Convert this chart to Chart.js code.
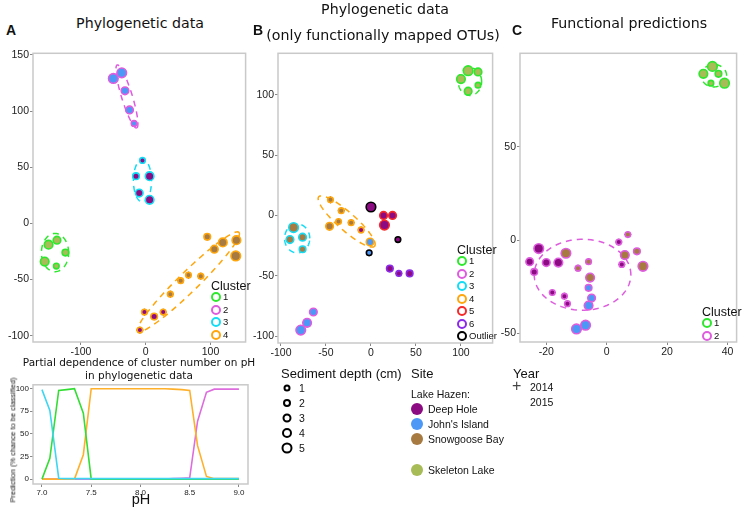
<!DOCTYPE html>
<html>
<head>
<meta charset="utf-8">
<script src="https://cdn.jsdelivr.net/npm/chart.js@4.4.1/dist/chart.umd.min.js"></script>
<style>
body{margin:0;background:#fff;}
#wrap{position:relative;width:743px;height:508px;overflow:hidden;font-family:'Liberation Sans',Arial,sans-serif;color:#111;}
canvas{position:absolute;}
.t{position:absolute;white-space:nowrap;line-height:1;transform:translateY(-50%);}
.c{transform:translate(-50%,-50%);}
.ttl{font-family:'DejaVu Sans',sans-serif;font-size:14.2px;}
.lab{font-weight:bold;font-size:14px;font-family:'Liberation Sans',Arial,sans-serif;}
.dot{position:absolute;border-radius:50%;box-sizing:border-box;transform:translate(-50%,-50%);}
</style>
</head>
<body>
<div id="wrap">
  <canvas id="chartA" width="252" height="314" style="left:0;top:46px"></canvas>
  <canvas id="chartB" width="249" height="315" style="left:250px;top:46px"></canvas>
  <canvas id="chartC" width="248" height="314" style="left:495px;top:46px"></canvas>
  <canvas id="chartP" width="252" height="129" style="left:0;top:379px"></canvas>

  <div class="t lab" style="left:6px;top:30px">A</div>
  <div class="t c ttl" style="left:140px;top:23px">Phylogenetic data</div>
  <div class="t lab" style="left:253px;top:30px">B</div>
  <div class="t c ttl" style="left:385px;top:9px">Phylogenetic data</div>
  <div class="t c ttl" style="left:383px;top:35px">(only functionally mapped OTUs)</div>
  <div class="t lab" style="left:512px;top:30px">C</div>
  <div class="t c ttl" style="left:629px;top:23px">Functional predictions</div>

  <div class="t c" style="left:139px;top:362px;font-family:'DejaVu Sans',sans-serif;font-size:10.5px">Partial dependence of cluster number on pH</div>
  <div class="t c" style="left:139px;top:375px;font-family:'DejaVu Sans',sans-serif;font-size:10.5px">in phylogenetic data</div>
  <div class="t c" style="left:13px;top:440px;font-size:7.5px;transform:translate(-50%,-50%) rotate(-90deg)">Prediction (% chance to be classified)</div>
  <div class="t c" style="left:141px;top:499px;font-size:14.5px">pH</div>

  <div class="t" style="left:281px;top:373px;font-size:13px">Sediment depth (cm)</div>

  <div class="t" style="left:411px;top:373px;font-size:13px">Site</div>
  <div class="t" style="left:411px;top:394px;font-size:10.5px">Lake Hazen:</div>

  <div class="t" style="left:513px;top:373px;font-size:13px">Year</div>
  <div class="t" style="left:512px;top:386px;font-size:16px;color:#444">+</div>
  <div class="t" style="left:530px;top:387px;font-size:10.5px">2014</div>
  <div class="t" style="left:530px;top:402px;font-size:10.5px">2015</div>
</div>
<script>
// colours for the sites (fill) and clusters (outline)
const siteColors={DH:'#8c0b83',JI:'#4b98f7',SB:'#a77a42',SL:'#a7bb56'};
const clusterColors={'1':'#2ee82e','2':'#de5cde','3':'#14dcf5','4':'#ffa60d','5':'#f52a2a','6':'#8b2be8','O':'#000000'};

// panel A - phylogenetic data
const aX=[-50,-37,-32,-25,-18, -5,-15,6,-10,6, -150,-137,-124,-156,-138, 95,106,119,140,139, 85,66,54,38,27,13,-2,-9];
const aY=[129,134,118,101,89, 56,42,42,27,21, -19,-15,-26,-34,-38, -12,-23,-17,-15,-29, -47,-46,-51,-63,-79,-83,-79,-95];
const aSite=['JI','JI','JI','JI','JI','DH','DH','DH','DH','DH','SL','SL','SL','SL','SL','SB','SB','SB','SB','SB','SB','SB','SB','SB','DH','DH','DH','DH'];
const aDepth=[5,5,3,3,1, 1,2,4,3,4, 4,3,2,4,1, 2,3,4,4,5, 1,1,1,1,1,2,1,1];
const aCluster=['2','2','2','2','2','3','3','3','3','3','1','1','1','1','1','4','4','4','4','4','4','4','4','4','4','4','4','4'];
const aYear=[2015,2015,2015,2015,2015,2015,2015,2015,2015,2015,2015,2015,2015,2015,2015,2015,2015,2015,2015,2015,2014,2014,2014,2014,2014,2014,2014,2014];
const aXTicks=[-100,0,100];
const aYTicks=[-100,-50,0,50,100,150];
const aEllipses=[
  {k:'2',c:[-29,113],u:[15,-28],v:[7.9,1.45]},
  {k:'3',c:[-5,38],u:[14,0],v:[0,19]},
  {k:'1',c:[-140,-26],u:[21,0],v:[0,17]},
  {k:'4',c:[66,-52],u:[78,44],v:[10.7,-6.3]}
];

// panel B - phylogenetic data, only functionally mapped OTUs
const bX=[108,119,100,119,108, -45,-33,-36,-22,-11,-46,-1, -86,-76,-90,-76, 14,24,15, 0,30,-2, 21,31,43, -64,-71,-78];
const bY=[120,119,113,108,103, 13,4,-5,-6,-12,-9,-22, -10,-18,-20,-28, 0,0,-8, 7,-20,-31, -44,-48,-48, -80,-89,-95];
const bSite=['SL','SL','SL','SL','SL','SB','SB','SB','SB','DH','SB','JI','SB','SB','SB','SB','DH','DH','DH','DH','DH','JI','DH','DH','DH','JI','JI','JI'];
const bDepth=[5,3,4,1,3, 1,1,1,1,1,3,3, 5,3,3,2, 3,3,5, 5,1,1, 2,1,2, 3,4,5];
const bCluster=['1','1','1','1','1','4','4','4','4','4','4','4','3','3','3','3','5','5','5','O','O','O','6','6','6','2','2','2'];
const bYear=[2015,2015,2015,2015,2015,2014,2014,2014,2014,2014,2015,2015,2015,2015,2015,2015,2015,2015,2015,2015,2015,2015,2014,2014,2014,2015,2015,2015];
const bXTicks=[-100,-50,0,50,100];
const bYTicks=[-100,-50,0,50,100];
const bEllipses=[
  {k:'1',c:[110,111],u:[13,0],v:[0,11.5]},
  {k:'4',c:[-27,-5],u:[31,-20.5],v:[6.6,5.5]},
  {k:'3',c:[-82,-19],u:[14,0],v:[0,12]}
];

// panel C - functional predictions
const cX=[35,32,37,34.5,39, 7,4,-22.5,-13.5,10,6,-25.5,-20,-16,-6,12,5,-24,-9.5,-5.5,-6,-18,-14,-5,-13,-6,-7,-10];
const cY=[93,89,89,84,84, 3,-1,-4.5,-7,-6,-8,-11.5,-12,-12,-11.5,-14,-13,-17,-15,-20,-25.5,-28,-30,-31,-34,-35,-45.5,-47.5];
const cSite=['SL','SL','SL','SL','SL','SB','DH','DH','SB','SB','SB','DH','DH','DH','SB','SB','DH','DH','SB','SB','JI','DH','DH','JI','DH','JI','JI','JI'];
const cDepth=[5,4,2,1,5, 1,1,5,5,2,4,3,3,4,1,5,1,2,1,4,2,1,1,3,1,4,5,5];
const cCluster=['1','1','1','1','1','2','2','2','2','2','2','2','2','2','2','2','2','2','2','2','2','2','2','2','2','2','2','2'];
const cYear=[2015,2015,2015,2015,2015,2014,2014,2015,2015,2015,2015,2015,2015,2015,2014,2015,2014,2015,2014,2015,2015,2014,2014,2015,2014,2015,2015,2015];
const cXTicks=[-20,0,20,40];
const cYTicks=[-50,0,50];
const cEllipses=[
  {k:'1',c:[35.5,88],u:[4.2,0],v:[0,6]},
  {k:'2',c:[-8,-18.5],u:[16,0],v:[0,19]}
];

// partial dependence of cluster on pH
const pH=[7.00,7.08,7.17,7.25,7.33,7.42,7.50,7.58,7.67,7.75,7.83,7.92,8.00,8.08,8.17,8.25,8.33,8.42,8.50,8.58,8.67,8.75,8.83,8.92,9.00];
const pCluster3=[99,76,1,0.5,0.5,0.5,0.5,0.5,0.5,0.5,0.5,0.5,0.5,0.5,0.5,0.5,0.5,0.5,0.5,0.5,0.5,0.5,0.5,0.5,0.5];
const pCluster1=[0,23,98,99,100,73,0,0,0,0,0,0,0,0,0,0,0,0,0,0,0,0,0,0,0];
const pCluster4=[0,0,0,0,0,27,100,100,100,100,100,100,100,100,100,100,99.5,99,98,37,3,0.5,0.5,0.5,0.5];
const pCluster2=[0,0,0,0,0,0,0,0,0,0,0,0,0,0,0,0,0.5,1,1.5,64,96,99.5,99.5,99.5,99.5];
const pXTicks=[7,7.5,8,8.5,9];
const pYTicks=[0,25,50,75,100];

const depthLevels=[1,2,3,4,5];
const siteNames=[['DH','Deep Hole'],['JI',"John's Island"],['SB','Snowgoose Bay'],['SL','Skeleton Lake']];

function radius(d){return 2.3+d*0.5}

// frame round the plot area
const framePlugin={id:'frame',afterDraw(chart,args,opts){
  const a=chart.chartArea,ctx=chart.ctx;
  ctx.save();ctx.strokeStyle='#c9c9c9';ctx.lineWidth=1.5;
  ctx.strokeRect(a.left,a.top,a.right-a.left,a.bottom-a.top);ctx.restore();
}};
// dashed cluster ellipses, given in data units
const ellipsePlugin={id:'ellipses',beforeDatasetsDraw(chart,args,opts){
  const ctx=chart.ctx,x=chart.scales.x,y=chart.scales.y;
  (opts.list||[]).forEach(e=>{
    ctx.save();ctx.beginPath();
    for(let k=0;k<=90;k++){
      const t=k/90*Math.PI*2;
      const px=x.getPixelForValue(e.c[0]+e.u[0]*Math.cos(t)+e.v[0]*Math.sin(t));
      const py=y.getPixelForValue(e.c[1]+e.u[1]*Math.cos(t)+e.v[1]*Math.sin(t));
      k?ctx.lineTo(px,py):ctx.moveTo(px,py);
    }
    ctx.setLineDash([6,5]);ctx.strokeStyle=clusterColors[e.k];ctx.lineWidth=1.5;ctx.stroke();ctx.restore();
  });
}};
Chart.register(framePlugin,ellipsePlugin);

function axis(min,max,ticks,size,fs,fmt){
  return {type:'linear',min,max,
    afterBuildTicks:s=>{s.ticks=ticks.map(v=>({value:v}))},
    afterFit:s=>{if(s.isHorizontal())s.height=size;else s.width=size},
    grid:{drawOnChartArea:false,drawTicks:true,tickLength:3,color:'#888'},
    border:{display:false},
    ticks:{color:'#222',padding:1,font:{family:'Liberation Sans',size:fs},callback:fmt||(v=>String(v))}
  };
}

function scatter(id,X,Y,site,depth,clus,year,xr,yr,xt,yt,yw,pad,ell){
  const pts=X.map((x,i)=>({x,y:Y[i]}));
  new Chart(document.getElementById(id),{
    type:'scatter',
    data:{datasets:[{
      data:pts,
      backgroundColor:site.map(s=>siteColors[s]),
      borderColor:clus.map(c=>clusterColors[c]),
      borderWidth:1.6,
      pointRadius:depth.map(radius),
      pointHoverRadius:depth.map(radius)
    },{
      data:pts.filter((p,i)=>year[i]===2014),
      pointStyle:'cross',pointRadius:3.4,borderWidth:1.1,borderColor:'#3a2418'
    }]},
    options:{responsive:false,animation:false,
      layout:{padding:{top:4,right:pad,left:0,bottom:0}},
      scales:{x:axis(xr[0],xr[1],xt,18,10.5),y:axis(yr[0],yr[1],yt,yw,10.5)},
      plugins:{legend:{display:false},tooltip:{enabled:false},ellipses:{list:ell}}
    }
  });
}

scatter('chartA',aX,aY,aSite,aDepth,aCluster,aYear,[-174,154.2],[-105.6,151.4],aXTicks,aYTicks,33,4,aEllipses);
scatter('chartB',bX,bY,bSite,bDepth,bCluster,bYear,[-103.3,135.2],[-105.7,134.4],bXTicks,bYTicks,28,4,bEllipses);
scatter('chartC',cX,cY,cSite,cDepth,cCluster,cYear,[-28.7,43],[-54.5,100],cXTicks,cYTicks,25,3,cEllipses);

const line=(vals,col)=>({data:pH.map((x,i)=>({x,y:vals[i]})),borderColor:col,borderWidth:1.6,pointRadius:0,tension:0,fill:false});
new Chart(document.getElementById('chartP'),{
  type:'line',
  data:{datasets:[line(pCluster3,'#3ed6f2'),line(pCluster1,'#34dd34'),line(pCluster4,'#ffb02a'),line(pCluster2,'#dd6ddd')]},
  options:{responsive:false,animation:false,
    layout:{padding:{top:4,right:4,left:0,bottom:0}},
    scales:{x:axis(6.909,9.092,pXTicks,24,8,v=>v.toFixed(1)),y:axis(-5.4,104.3,pYTicks,33,8)},
    plugins:{legend:{display:false},tooltip:{enabled:false}}
  }
});

// legends built as HTML
function dot(x,y,d,fill,border,bw){
  const e=document.createElement('div');e.className='dot';
  e.style.cssText+=`left:${x}px;top:${y}px;width:${d}px;height:${d}px;background:${fill};border:${bw}px solid ${border}`;
  document.getElementById('wrap').appendChild(e);
}
function text(x,y,s,fs){
  const e=document.createElement('div');e.className='t';
  e.style.cssText+=`left:${x}px;top:${y}px;font-size:${fs}px`;e.textContent=s;
  document.getElementById('wrap').appendChild(e);
}
function clusterLegend(x,y,keys,labels){
  text(x-5,y,'Cluster',12.5);
  keys.forEach((k,i)=>{
    const yy=y+11+i*12.5;
    dot(x,yy,10,'#fff',clusterColors[k],2);
    text(x+7,yy,labels[i],9.5);
  });
}
clusterLegend(216,286,['1','2','3','4'],['1','2','3','4']);
clusterLegend(462,250,['1','2','3','4','5','6','O'],['1','2','3','4','5','6','Outlier']);
clusterLegend(707,312,['1','2'],['1','2']);

depthLevels.forEach((d,i)=>{
  dot(287,388+i*15,6+d,'#fff','#000',2);
  text(299,388+i*15,String(d),10.5);
});
siteNames.forEach(([k,n],i)=>{
  const yy=[409,424,439,470][i];
  dot(417,yy,12,siteColors[k],siteColors[k],0);
  text(428,yy,n,10.5);
});
</script>
</body>
</html>
